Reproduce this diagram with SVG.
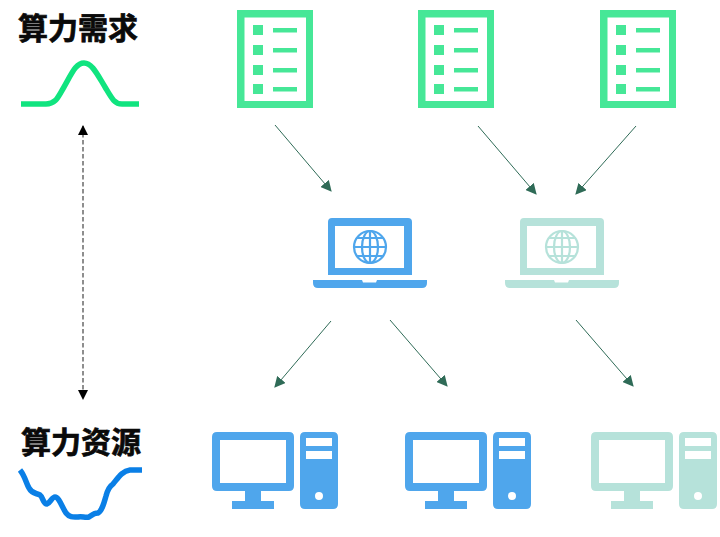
<svg xmlns="http://www.w3.org/2000/svg" width="720" height="537" viewBox="0 0 720 537">
<style>
.title{font-family:"Noto Sans CJK SC","Noto Sans CJK JP",sans-serif;font-size:30px;font-weight:700;fill:#0a0a0a;stroke:#0a0a0a;stroke-width:.7}
.doc{fill:#46e797}
.blue{fill:#4fa6ec;color:#4fa6ec}
.teal{fill:#b6e2da;color:#b6e2da}
.curve{fill:none;stroke-width:5.500}
.link{fill:none;stroke:#2f6b57;stroke-width:1;marker-end:url(#arrow)}
.globe{fill:none;stroke:currentColor;stroke-width:2.200}
</style>
<defs>
<marker id="arrow" viewBox="0 0 10 10" refX="9" refY="5" markerUnits="userSpaceOnUse" markerWidth="11" markerHeight="11" orient="auto"><path d="M0 0L10 5L0 10Z" fill="#2f6b57"/></marker>
<marker id="black" viewBox="0 0 10 10" refX="9" refY="5" markerUnits="userSpaceOnUse" markerWidth="10" markerHeight="10" orient="auto-start-reverse"><path d="M0 0L10 5L0 10Z" fill="#000"/></marker>
<g id="document">
<path fill-rule="evenodd" d="M0 0H76V98H0ZM7.500 7.500V91H69V7.500Z"/>
<path d="M16 15H26V25H16ZM36 18H60V22.500H36ZM16 35H26V45H16ZM36 38H60V42.500H36ZM16 55H26V65H16ZM36 58H60V62.500H36ZM16 74H26V84H16ZM36 77H60V81.500H36Z"/>
</g>
<g id="laptop">
<path fill-rule="evenodd" d="M4 0H80Q84 0 84 4V57H0V4Q0 0 4 0ZM7 8V50H76V8Z" transform="translate(15 0)"/>
<path d="M0 62H49L50 64.500H63L64 62H114V65Q114 70 109 70H5Q0 70 0 65Z"/>
<g class="globe"><circle cx="57" cy="29" r="16"/><ellipse cx="57" cy="29" rx="8" ry="16"/><path d="M57 13V45M41 29H73M44 20H70M44 38H70"/></g>
</g>
<g id="desktop">
<path fill-rule="evenodd" d="M5 0H77Q82 0 82 5V54Q82 59 77 59H49V69H62V77H20V69H33V59H5Q0 59 0 54V5Q0 0 5 0ZM8 8V51H74V8Z"/>
<path fill-rule="evenodd" d="M93 0H121Q126 0 126 5V72Q126 77 121 77H93Q88 77 88 72V5Q88 0 93 0ZM94 6V14H120V6ZM94 19V27H120V19ZM107 60A4 4 0 1 0 107 68A4 4 0 1 0 107 60Z"/>
</g>
</defs>
<rect width="720" height="537" fill="#fff"/>
<g id="demand-label">
<text class="title" x="18" y="39">算力需求</text>
<path class="curve" stroke="#10e47f" d="M21 104H46C56 104 58 97 64 87C72 73 76 63 84 63C92 63 97 74 105 87C111 97 114 104 122 104H139"/>
</g>
<g id="resource-label">
<text class="title" x="21" y="453">算力资源</text>
<path class="curve" stroke="#0a7fe6" d="M20 470C25 476 26 483 29 488C32 494 36 493 40 495C43 497 43 504 47 504C50 503 52 497 55 497C59 497 62 507 66 513C70 518 74 517 78 517C82 516 85 518 89 517C92 515 94 513 98 513C102 511 104 503 106 496C108 488 110 486 113 484C118 478 122 471 130 470H142"/>
</g>
<g id="connectors">
<path class="link" d="M275 125L331 191"/>
<path class="link" d="M478 126L536 194"/>
<path class="link" d="M636 126L576 194"/>
<path class="link" d="M331 321L275 387"/>
<path class="link" d="M390 320L447 386"/>
<path class="link" d="M576 320L633 386"/>
<path d="M83 126V399" fill="none" stroke="#444" stroke-width="1.200" stroke-dasharray="4.500 2.500" marker-start="url(#black)" marker-end="url(#black)"/>
</g>
<g id="doc-1" class="doc"><use href="#document" x="237" y="10"/></g>
<g id="doc-2" class="doc"><use href="#document" x="418" y="10"/></g>
<g id="doc-3" class="doc"><use href="#document" x="600" y="10"/></g>
<g id="laptop-1" class="blue"><use href="#laptop" x="313" y="218"/></g>
<g id="laptop-2" class="teal"><use href="#laptop" x="505" y="218"/></g>
<g id="desktop-1" class="blue"><use href="#desktop" x="212" y="432"/></g>
<g id="desktop-2" class="blue"><use href="#desktop" x="405" y="432"/></g>
<g id="desktop-3" class="teal"><use href="#desktop" x="591" y="432"/></g>
</svg>
